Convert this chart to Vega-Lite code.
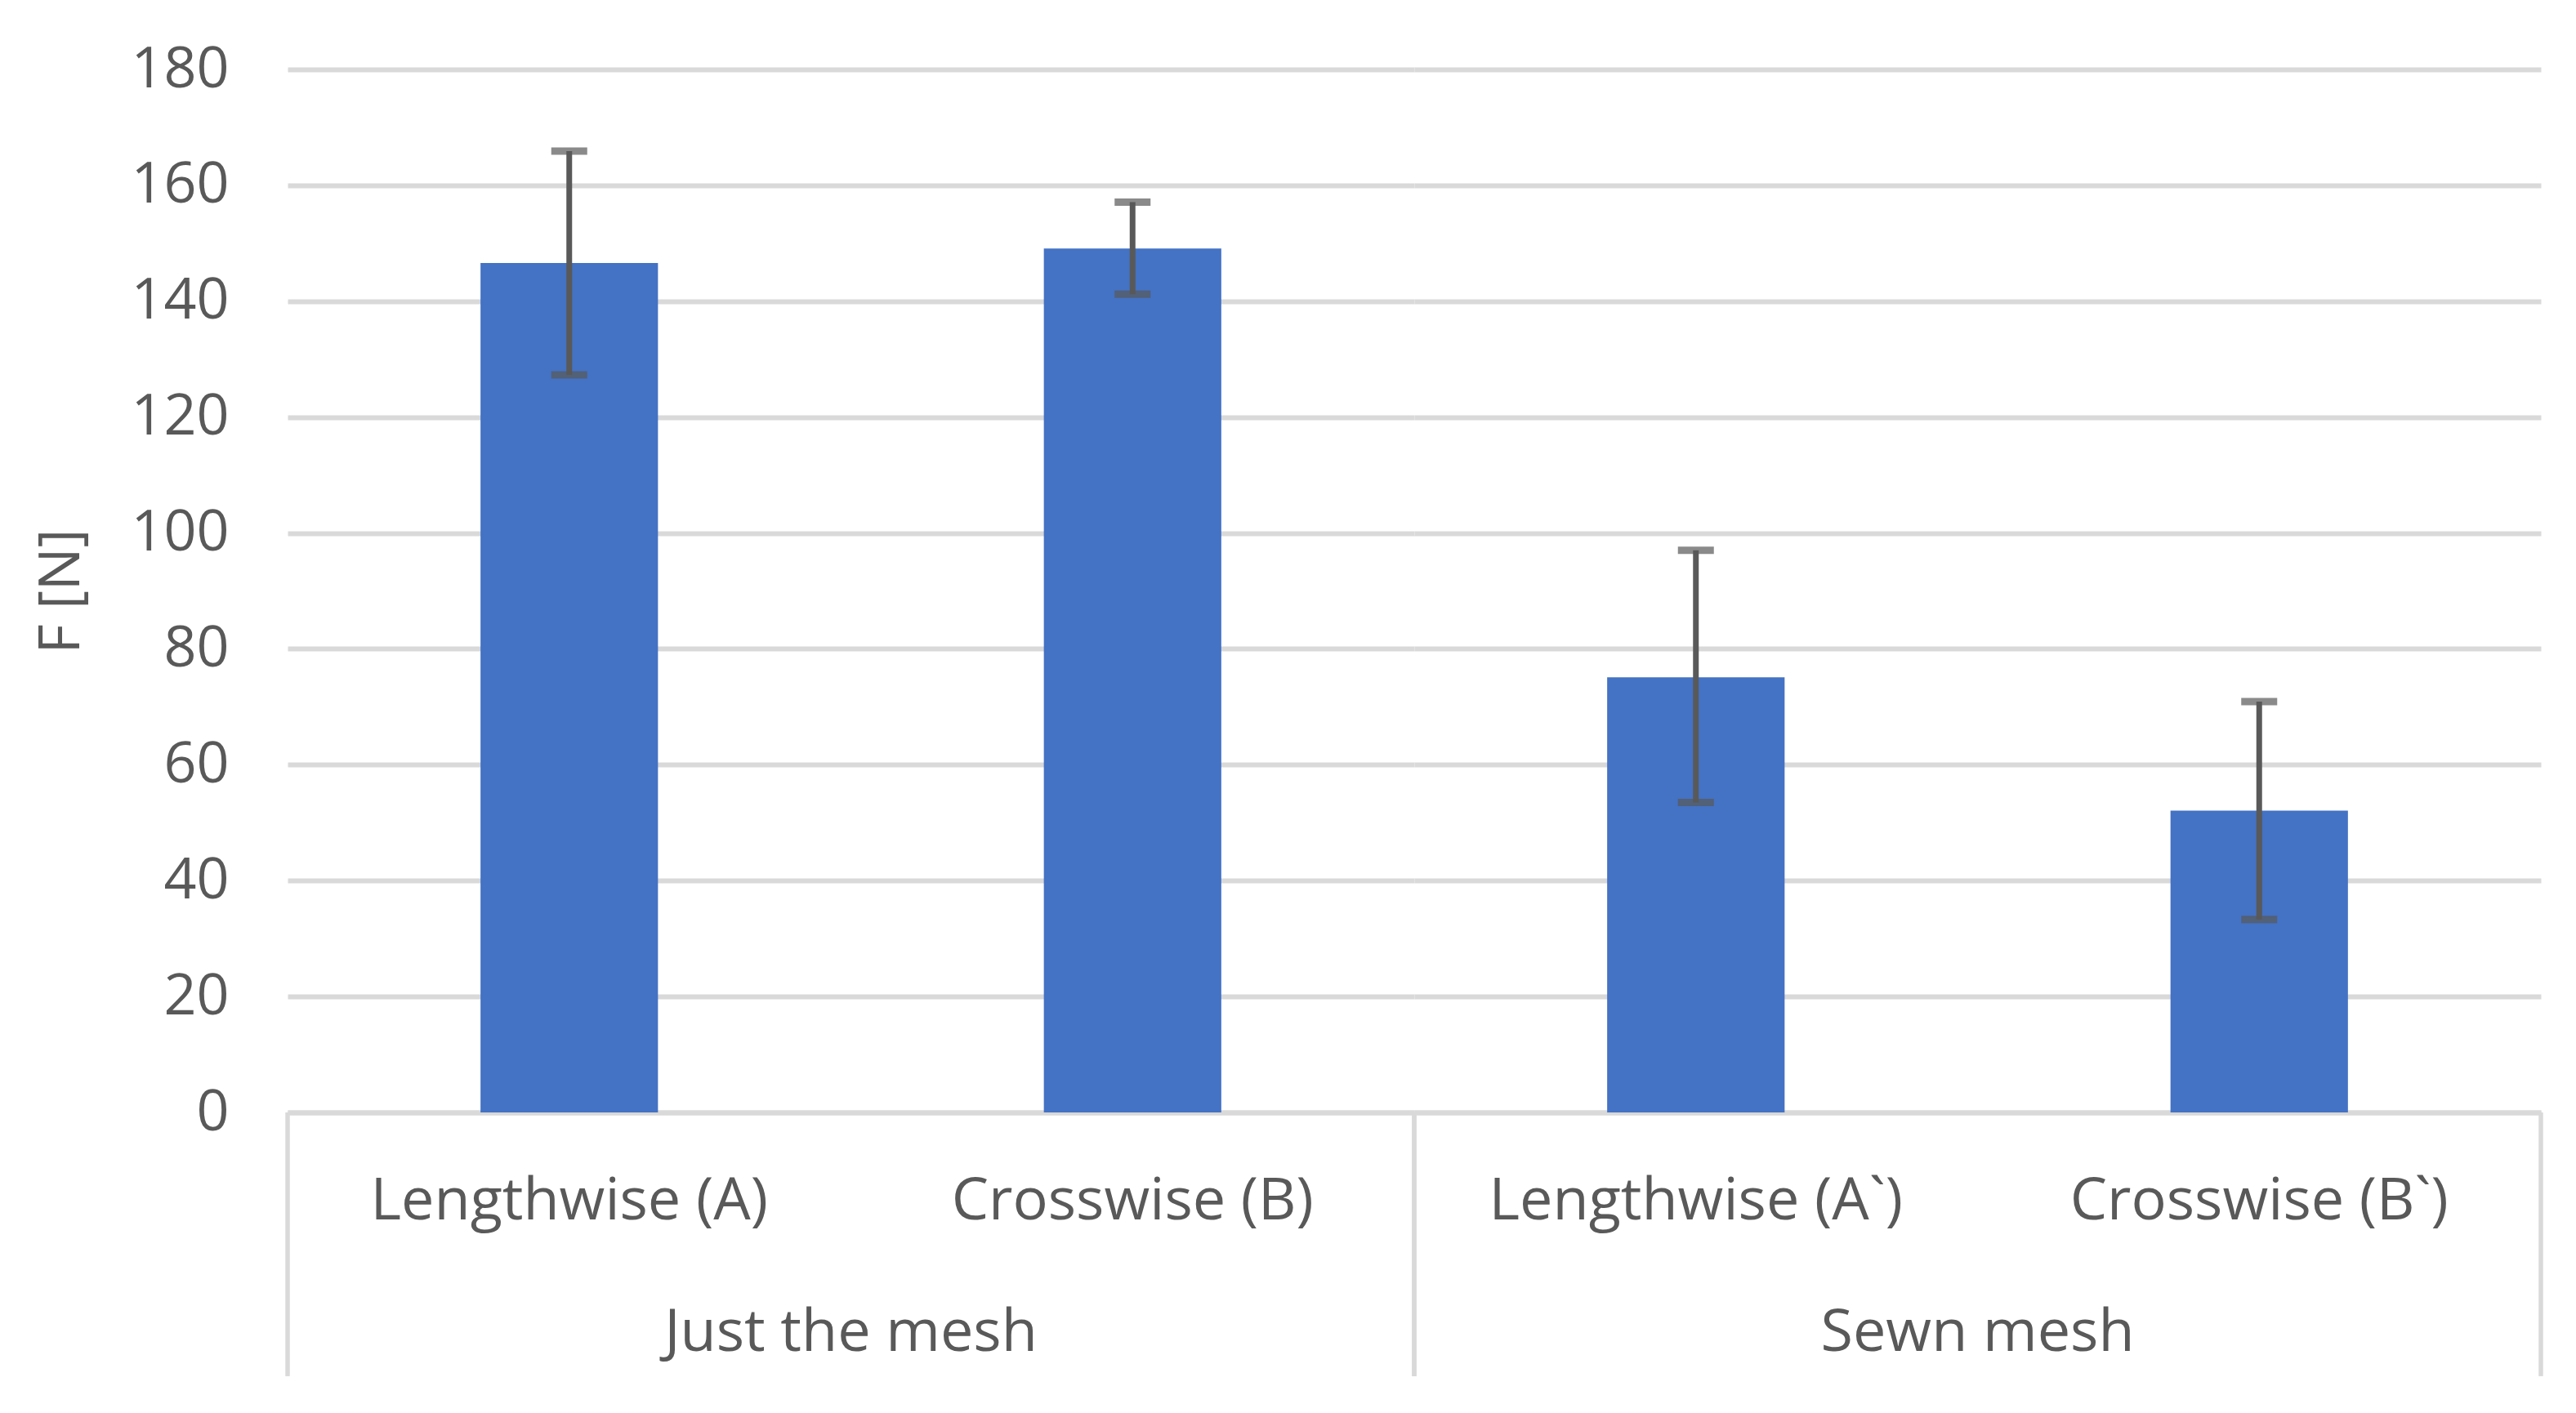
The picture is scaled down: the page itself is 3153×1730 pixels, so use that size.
{
  "$schema": "https://vega.github.io/schema/vega-lite/v6.json",
  "padding": {"left": 40, "top": 50, "right": 31, "bottom": 0},
  "background": "white",
  "config": {"view": {"stroke": null}, "font": "Open Sans"},
  "data": {"values": [
    {"group": "Just the mesh", "sub": "Lengthwise (A)", "F": 146.6, "lower": 127.3, "upper": 165.9},
    {"group": "Just the mesh", "sub": "Crosswise (B)", "F": 149.1, "lower": 141.2, "upper": 157.1},
    {"group": "Sewn mesh", "sub": "Lengthwise (A`)", "F": 75.1, "lower": 53.5, "upper": 97.0},
    {"group": "Sewn mesh", "sub": "Crosswise (B`)", "F": 52.1, "lower": 33.3, "upper": 70.9}
  ]},
  "facet": {"column": {"field": "group", "type": "nominal", "header": {"title": null, "labelOrient": "bottom", "labelFontSize": 72, "labelColor": "#595959", "labelFont": "Open Sans", "labelPadding": 235, "labelLimit": 0}}},
  "spacing": 0,
  "bounds": "flush",
  "resolve": {"scale": {"x": "independent"}},
  "spec": {
    "width": 1379,
    "height": 1277,
    "resolve": {"scale": {"x": "independent"}},
    "layer": [
      {
        "encoding": {
          "x": {"field": "sub", "type": "nominal", "sort": ["Lengthwise (A)", "Crosswise (B)", "Lengthwise (A`)", "Crosswise (B`)"],
            "scale": {"paddingInner": 0.685, "paddingOuter": 0.3425},
            "axis": {"title": null, "labelAngle": 0, "labelFontSize": 72, "labelColor": "#595959", "labelFont": "Open Sans", "labelLimit": 0, "ticks": false, "tickSize": 0, "labelPadding": 73, "domainColor": "#D9D9D9", "domainWidth": 6, "grid": false}}
        },
        "layer": [
          {"mark": {"type": "bar", "color": "#4472C4"},
           "encoding": {"y": {"field": "F", "type": "quantitative", "title": "F [N]", "scale": {"domain": [0, 180], "nice": false},
             "axis": {"values": [0, 20, 40, 60, 80, 100, 120, 140, 160, 180], "labelFontSize": 70, "labelColor": "#595959", "labelFont": "Open Sans", "domain": false, "ticks": false, "tickSize": 0, "labelPadding": 72, "gridColor": "#D9D9D9", "gridWidth": 6, "titleFontSize": 70, "titleColor": "#595959", "titleFont": "Open Sans", "titleFontWeight": "normal", "titlePadding": 48}}}},
          {"mark": {"type": "rule", "color": "#595959", "strokeWidth": 7},
           "encoding": {"y": {"field": "lower", "type": "quantitative", "title": "F [N]"}, "y2": {"field": "upper"}}},
          {"mark": {"type": "tick", "color": "#595959", "size": 44, "thickness": 9},
           "encoding": {"y": {"field": "lower", "type": "quantitative", "title": "F [N]"}}},
          {"mark": {"type": "tick", "color": "#595959", "size": 44, "thickness": 9},
           "encoding": {"y": {"field": "upper", "type": "quantitative", "title": "F [N]"}}}
        ]
      },
      {
        "layer": [
          {"mark": {"type": "rule", "color": "#D9D9D9", "strokeWidth": 5},
           "encoding": {"x": {"datum": 0, "type": "quantitative", "scale": {"domain": [0, 1]}, "axis": null},
             "y": {"datum": 0, "type": "quantitative", "title": "F [N]", "scale": {"domain": [0, 180], "nice": false}}, "y2": {"datum": -45.5}}},
          {"mark": {"type": "rule", "color": "#D9D9D9", "strokeWidth": 5},
           "encoding": {"x": {"datum": 1, "type": "quantitative", "scale": {"domain": [0, 1]}, "axis": null},
             "y": {"datum": 0, "type": "quantitative", "title": "F [N]", "scale": {"domain": [0, 180], "nice": false}}, "y2": {"datum": -45.5}}}
        ]
      }
    ]
  }
}
